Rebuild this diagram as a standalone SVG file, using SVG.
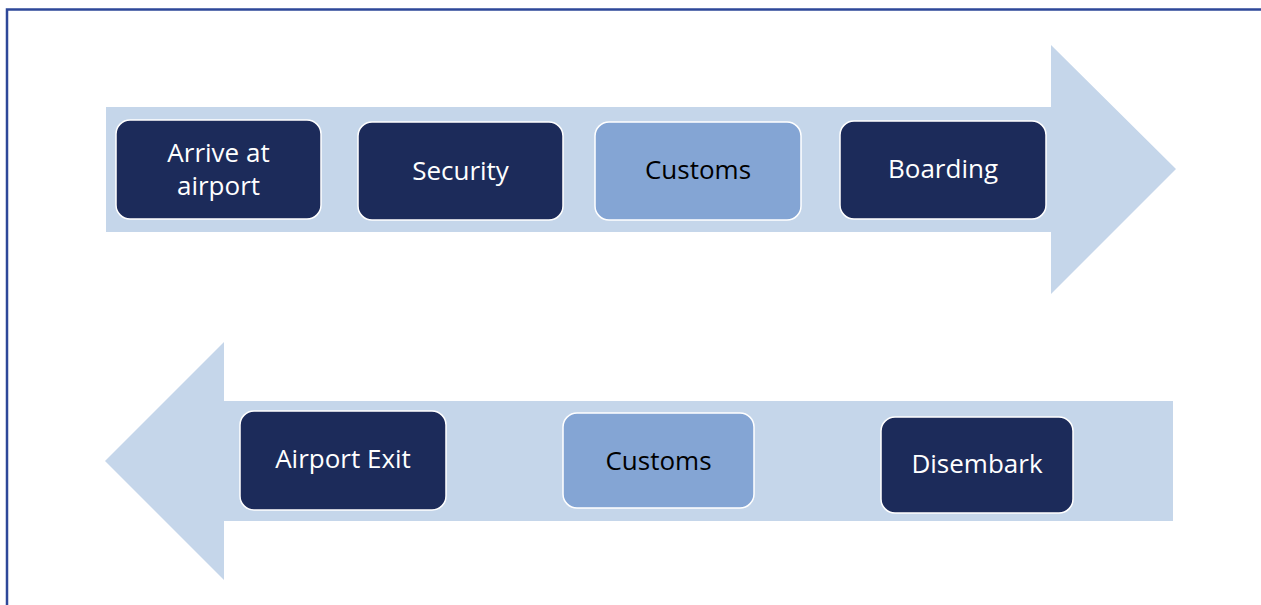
<svg xmlns="http://www.w3.org/2000/svg" width="1261" height="605" viewBox="0 0 1261 605">
<style>
.arrow{fill:#C5D6EA}
.dark{fill:#1C2B5A;stroke:#FFFFFF;stroke-width:1.5}
.light{fill:#84A5D4;stroke:#FFFFFF;stroke-width:1.5}
.lbl{font-family:"Open Sans","Noto Sans",sans-serif;font-size:26px;text-anchor:middle;dominant-baseline:central}
.w{fill:#FFFFFF}
.k{fill:#000000}
</style>
<rect x="0" y="0" width="1261" height="605" fill="#FFFFFF"/>
<rect x="7" y="9.5" width="1270" height="620" fill="none" stroke="#2E4899" stroke-width="2.5"/>
<g id="connectors">
<polygon class="arrow" points="106,107 1051,107 1051,45 1176,169 1051,294 1051,232 106,232"/>
<polygon class="arrow" points="1173,401 224,401 224,342 105,461 224,580 224,521 1173,521"/>
</g>
<g id="arrive">
<rect class="dark" x="116" y="120" width="205" height="99" rx="14"/>
<text class="lbl w" x="218.5" y="152">Arrive at</text>
<text class="lbl w" x="218.5" y="185">airport</text>
</g>
<g id="security">
<rect class="dark" x="358" y="122" width="205" height="98" rx="14"/>
<text class="lbl w" x="460.5" y="170">Security</text>
</g>
<g id="customs1">
<rect class="light" x="595" y="122" width="206" height="98" rx="14"/>
<text class="lbl k" x="698" y="169">Customs</text>
</g>
<g id="boarding">
<rect class="dark" x="840" y="121" width="206" height="98" rx="14"/>
<text class="lbl w" x="943" y="168">Boarding</text>
</g>
<g id="exit">
<rect class="dark" x="240" y="411" width="206" height="99" rx="14"/>
<text class="lbl w" x="343" y="458">Airport Exit</text>
</g>
<g id="customs2">
<rect class="light" x="563" y="413" width="191" height="95" rx="14"/>
<text class="lbl k" x="658.5" y="460">Customs</text>
</g>
<g id="disembark">
<rect class="dark" x="881" y="417" width="192" height="96" rx="14"/>
<text class="lbl w" x="977" y="463">Disembark</text>
</g>
</svg>
